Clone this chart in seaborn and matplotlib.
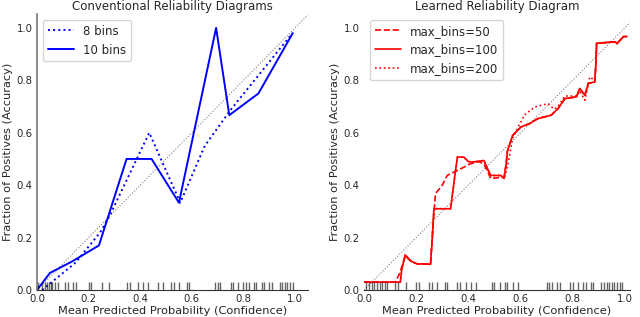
import seaborn as sns
import matplotlib.pyplot as plt

# Conventional binned reliability curves
conf_8 = [0.02, 0.15, 0.245, 0.28, 0.435, 0.555, 0.65, 0.75, 0.99]
acc_8 = [0.0, 0.105, 0.22, 0.28, 0.60, 0.333, 0.55, 0.687, 0.98]
conf_10 = [0.0, 0.05, 0.138, 0.24, 0.347, 0.444, 0.55, 0.694, 0.745, 0.858, 0.991]
acc_10 = [0.0, 0.065, 0.11, 0.17, 0.50, 0.50, 0.333, 1.0, 0.667, 0.75, 0.98]

# Learned reliability curves
x_50 = [0.0, 0.12, 0.135, 0.146, 0.158, 0.18, 0.203, 0.255, 0.265, 0.274, 0.30, 0.319,
        0.37, 0.409, 0.44, 0.46, 0.475, 0.486, 0.525, 0.537, 0.545, 0.55, 0.57, 0.602,
        0.635, 0.667, 0.718, 0.744, 0.77, 0.815, 0.827, 0.847, 0.86, 0.885, 0.889,
        0.892, 0.963, 0.97, 0.995, 1.008]
y_50 = [0.03, 0.03, 0.06, 0.09, 0.13, 0.11, 0.10, 0.098, 0.25, 0.367, 0.40, 0.437,
        0.462, 0.482, 0.49, 0.48, 0.45, 0.425, 0.43, 0.43, 0.48, 0.53, 0.59, 0.622,
        0.635, 0.654, 0.667, 0.692, 0.73, 0.737, 0.769, 0.743, 0.788, 0.794, 0.86,
        0.941, 0.947, 0.94, 0.967, 0.967]
x_100 = [0.0, 0.139, 0.145, 0.158, 0.18, 0.203, 0.255, 0.262, 0.268, 0.332, 0.345,
         0.358, 0.383, 0.40, 0.415, 0.46, 0.475, 0.486, 0.525, 0.537, 0.545, 0.55,
         0.57, 0.602, 0.635, 0.667, 0.718, 0.744, 0.77, 0.815, 0.827, 0.847, 0.86,
         0.885, 0.889, 0.892, 0.963, 0.97, 0.995, 1.008]
y_100 = [0.03, 0.03, 0.08, 0.134, 0.11, 0.10, 0.098, 0.20, 0.31, 0.31, 0.41, 0.507,
         0.507, 0.49, 0.488, 0.494, 0.46, 0.437, 0.437, 0.425, 0.48, 0.53, 0.59,
         0.622, 0.635, 0.654, 0.667, 0.692, 0.73, 0.737, 0.769, 0.743, 0.788, 0.794,
         0.86, 0.941, 0.947, 0.94, 0.967, 0.967]
x_200 = [0.0, 0.139, 0.145, 0.158, 0.18, 0.203, 0.255, 0.262, 0.268, 0.332, 0.345,
         0.358, 0.383, 0.40, 0.415, 0.46, 0.475, 0.486, 0.525, 0.537, 0.545, 0.556,
         0.57, 0.59, 0.615, 0.654, 0.705, 0.73, 0.744, 0.77, 0.815, 0.827, 0.847,
         0.866, 0.885, 0.889, 0.892, 0.963, 0.97, 0.995, 1.008]
y_200 = [0.03, 0.03, 0.08, 0.134, 0.11, 0.10, 0.098, 0.20, 0.31, 0.31, 0.41, 0.507,
         0.507, 0.49, 0.488, 0.494, 0.46, 0.437, 0.437, 0.425, 0.45, 0.50, 0.58,
         0.62, 0.667, 0.698, 0.711, 0.69, 0.70, 0.74, 0.74, 0.76, 0.724, 0.813,
         0.80, 0.86, 0.941, 0.947, 0.94, 0.967, 0.967]

# Confidence values shown as rug ticks
rug_left = [0.003, 0.02, 0.03, 0.04, 0.045, 0.055, 0.06, 0.07, 0.08, 0.11, 0.12, 0.14,
            0.15, 0.20, 0.21, 0.25, 0.28, 0.35, 0.36, 0.39, 0.41, 0.43, 0.47, 0.49,
            0.52, 0.53, 0.55, 0.58, 0.59, 0.69, 0.70, 0.71, 0.75, 0.76, 0.78, 0.80,
            0.81, 0.82, 0.84, 0.85, 0.87, 0.88, 0.90, 0.91, 0.94, 0.95, 0.96, 0.97,
            0.98, 0.99]
rug_right = [0.007, 0.02, 0.03, 0.04, 0.05, 0.06, 0.07, 0.08, 0.09, 0.12, 0.13, 0.16,
             0.20, 0.21, 0.25, 0.26, 0.28, 0.31, 0.32, 0.355, 0.37, 0.39, 0.41, 0.43,
             0.49, 0.50, 0.52, 0.54, 0.55, 0.57, 0.59, 0.70, 0.71, 0.72, 0.74, 0.75,
             0.79, 0.80, 0.82, 0.84, 0.85, 0.87, 0.88, 0.91, 0.92, 0.93, 0.94, 0.95,
             0.96, 0.97, 0.98, 0.99]

sns.set_style('white')
plt.rcParams['font.family'] = ['DejaVu Sans']

fig = plt.figure(figsize=(6.4, 3.17), dpi=100)
ax1 = fig.add_axes([37 / 640, 27 / 317, 271 / 640, 276 / 317])
ax2 = fig.add_axes([364 / 640, 27 / 317, 266 / 640, 276 / 317])

# Left: conventional diagrams
ax1.plot([0, 1.1], [0, 1.1], ls=':', color='gray', lw=0.8)
sns.lineplot(x=conf_8, y=acc_8, ax=ax1, color='blue', linestyle=':', lw=1.4,
             sort=False, estimator=None, label='8 bins')
sns.lineplot(x=conf_10, y=acc_10, ax=ax1, color='blue', lw=1.4,
             sort=False, estimator=None, label='10 bins')
sns.rugplot(x=rug_left, ax=ax1, height=0.03, color='black', alpha=0.6, lw=0.8)
ax1.set_xlim(0, 1.05)
ax1.set_ylim(0, 1.053)
ax1.set_title('Conventional Reliability Diagrams', fontsize=8.5, pad=3)
ax1.legend(loc='upper left', fontsize=8.5, handlelength=2.2)

# Right: learned diagram
ax2.plot([0, 1.1], [0, 1.1], ls=':', color='gray', lw=0.8)
sns.lineplot(x=x_50, y=y_50, ax=ax2, color='red', linestyle='--', lw=1.2,
             sort=False, estimator=None, label='max_bins=50')
sns.lineplot(x=x_100, y=y_100, ax=ax2, color='red', lw=1.2,
             sort=False, estimator=None, label='max_bins=100')
sns.lineplot(x=x_200, y=y_200, ax=ax2, color='red', linestyle=':', lw=1.2,
             sort=False, estimator=None, label='max_bins=200')
sns.rugplot(x=rug_right, ax=ax2, height=0.03, color='black', alpha=0.6, lw=0.8)
ax2.set_xlim(0, 1.02)
ax2.set_ylim(0, 1.053)
ax2.set_title('Learned Reliability Diagram', fontsize=8.5, pad=3)
ax2.legend(loc='upper left', fontsize=8.5, handlelength=2.2)

for ax in (ax1, ax2):
    ax.set_xlabel('Mean Predicted Probability (Confidence)', fontsize=8.2, labelpad=1)
    ax.set_ylabel('Fraction of Positives (Accuracy)', fontsize=8.2, labelpad=3)
    ax.set_xticks([0, 0.2, 0.4, 0.6, 0.8, 1.0])
    ax.set_yticks([0, 0.2, 0.4, 0.6, 0.8, 1.0])
    ax.tick_params(labelsize=7.3, length=2, pad=1)
    sns.despine(ax=ax)
    ax.spines['bottom'].set_color('#333333')
ax1.spines['left'].set_color('#777777')
ax1.spines['left'].set_linewidth(1.2)
ax2.spines['left'].set_visible(False)

fig.savefig('out.png', dpi=100)
